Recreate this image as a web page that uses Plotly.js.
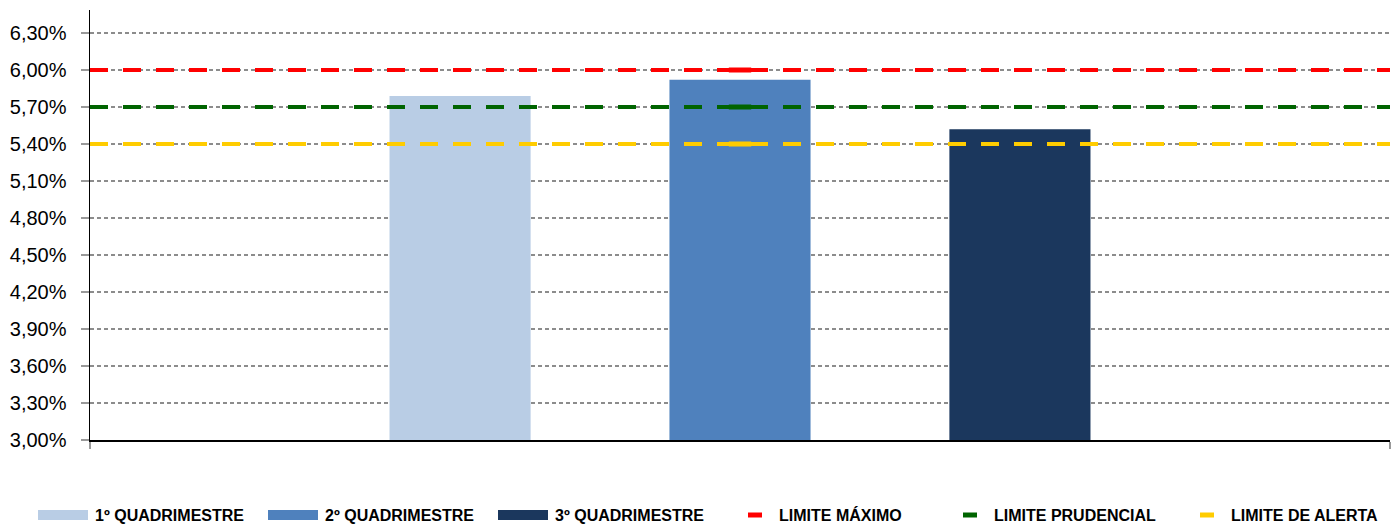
<!DOCTYPE html>
<html>
<head>
<meta charset="utf-8">
<script src="https://cdn.plot.ly/plotly-3.0.1.min.js"></script>
<style>html,body{margin:0;padding:0;background:#fff;}#chart{width:1400px;height:524px;}</style>
</head>
<body>
<div id="chart"></div>
<script>
// ---- data ----
const barNames = ['1º QUADRIMESTRE', '2º QUADRIMESTRE', '3º QUADRIMESTRE'];
const barValues = [5.79, 5.92, 5.52];
const limitNames = ['LIMITE MÁXIMO', 'LIMITE PRUDENCIAL', 'LIMITE DE ALERTA'];
const limitValues = [6.00, 5.70, 5.40];
const yTickValues = [3.00, 3.30, 3.60, 3.90, 4.20, 4.50, 4.80, 5.10, 5.40, 5.70, 6.00, 6.30];
const yTickLabels = ['3,00%', '3,30%', '3,60%', '3,90%', '4,20%', '4,50%', '4,80%', '5,10%', '5,40%', '5,70%', '6,00%', '6,30%'];

// ---- styles ----
const barColors = ['#b9cde5', '#4f81bd', '#1b375d'];
const limitColors = ['#ff0000', '#006400', '#ffcc00'];
const W = 1400, H = 524, L = 90, R = 10, T = 10, B = 84;
const plotW = W - L - R, plotH = H - T - B;
const px2x = p => (p - L) / plotW;
const px2y = p => (H - B - p) / plotH;

const traces = [];
barNames.forEach((n, i) => {
  traces.push({
    type: 'bar', name: n, x: [0], y: [barValues[i]],
    marker: {color: barColors[i]}, showlegend: false, hoverinfo: 'skip'
  });
});
limitNames.forEach((n, i) => {
  traces.push({
    type: 'scatter', mode: 'lines', name: n,
    x: [-0.5, 0.5], y: [limitValues[i], limitValues[i]],
    line: {color: limitColors[i], width: 4, dash: '18px,15px'},
    showlegend: false, hoverinfo: 'skip'
  });
  traces.push({
    type: 'scatter', mode: 'markers', name: n,
    x: [0], y: [limitValues[i]],
    marker: {symbol: 'line-ew', size: 16, line: {color: limitColors[i], width: 5}},
    showlegend: false, hoverinfo: 'skip'
  });
});

// custom legend
const shapes = [];
const annotations = [];
const legendFont = {family: 'Liberation Sans, Arial, sans-serif', size: 16, color: '#000'};
const barSwatchX = [38, 268, 498];
const lineSwatchX = [748, 963, 1200];
const legY = 515;
barNames.forEach((n, i) => {
  const x0 = barSwatchX[i];
  shapes.push({type: 'rect', xref: 'paper', yref: 'paper',
    x0: px2x(x0), x1: px2x(x0 + 50), y0: px2y(legY + 5), y1: px2y(legY - 5),
    fillcolor: barColors[i], line: {width: 0}});
  annotations.push({xref: 'paper', yref: 'paper', x: px2x(x0 + 55), y: px2y(legY),
    xanchor: 'left', yanchor: 'middle', showarrow: false,
    text: '<b>' + n + '</b>', font: legendFont});
});
limitNames.forEach((n, i) => {
  const x0 = lineSwatchX[i];
  shapes.push({type: 'line', xref: 'paper', yref: 'paper',
    x0: px2x(x0), x1: px2x(x0 + 14), y0: px2y(legY), y1: px2y(legY),
    line: {color: limitColors[i], width: 5}});
  annotations.push({xref: 'paper', yref: 'paper', x: px2x(x0 + 29), y: px2y(legY),
    xanchor: 'left', yanchor: 'middle', showarrow: false,
    text: '<b>' + n + '</b>', font: legendFont});
});

const layout = {
  width: W, height: H,
  margin: {l: L, r: R, t: T, b: B, pad: 0},
  paper_bgcolor: '#fff', plot_bgcolor: '#fff',
  barmode: 'group', bargap: 0.354, bargroupgap: 0.496,
  showlegend: false,
  font: {family: 'Liberation Sans, Arial, sans-serif', color: '#000'},
  xaxis: {
    range: [-0.5, 0.5], showgrid: false, zeroline: false,
    showline: true, linecolor: '#000', linewidth: 1.5,
    showticklabels: false, ticks: 'outside', tickmode: 'array', tickvals: [-0.5, 0.5],
    ticklen: 7, tickcolor: '#999', tickwidth: 1.5, fixedrange: true
  },
  yaxis: {
    range: [3.0, 3.0 + 3.3 * (plotH / 407)],
    tickmode: 'array', tickvals: yTickValues, ticktext: yTickLabels,
    showgrid: true, gridcolor: '#8c8c8c', gridwidth: 1.5, griddash: '4px,3px',
    zeroline: false, showline: true, linecolor: '#000', linewidth: 1.5,
    ticks: 'outside', ticklen: 8, tickcolor: '#999', tickwidth: 1.5,
    ticklabelstandoff: 10,
    tickfont: {family: 'Liberation Sans, Arial, sans-serif', size: 20, color: '#000'},
    fixedrange: true
  },
  shapes: shapes,
  annotations: annotations
};

Plotly.newPlot('chart', traces, layout, {displayModeBar: false, staticPlot: true});
</script>
</body>
</html>
